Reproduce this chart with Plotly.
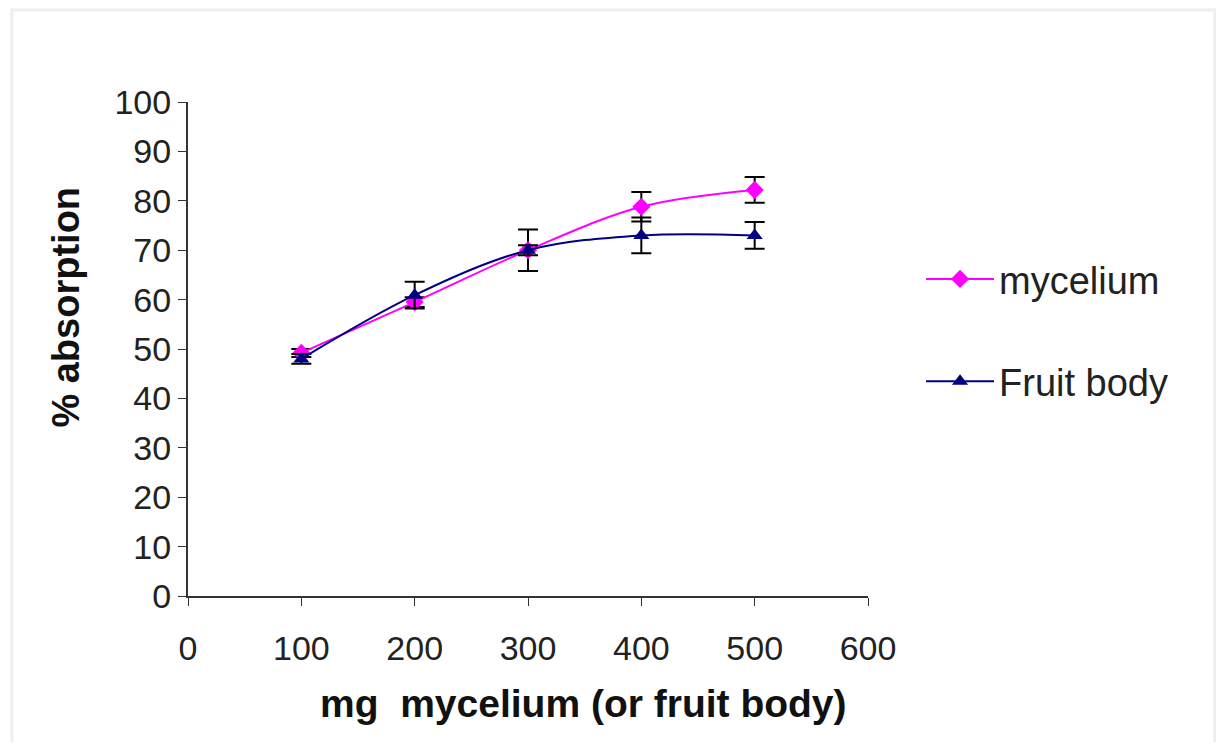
import plotly.graph_objects as go

x_vals = [100, 200, 300, 400, 500]
mycelium = [49.2, 59.5, 70.0, 78.8, 82.2]
mycelium_err = [0.8, 1.0, 4.2, 3.0, 2.6]
fruit_body = [48.0, 60.9, 70.0, 73.0, 73.0]
fruit_err = [1.0, 2.7, 1.0, 3.6, 2.7]
x_ticks = [0, 100, 200, 300, 400, 500, 600]
y_ticks = [0, 10, 20, 30, 40, 50, 60, 70, 80, 90, 100]
x_title = "mg  mycelium (or fruit body)"
y_title = "% absorption"

FONT = "Liberation Sans, Arial, sans-serif"

fig = go.Figure()
fig.add_trace(go.Scatter(
    x=x_vals, y=mycelium, name="mycelium", mode="lines+markers", legendgroup="a",
    line=dict(color="#FF00FF", width=2, shape="spline"),
    marker=dict(symbol="diamond", size=14, color="#FF00FF"),
    error_y=dict(type="data", array=mycelium_err, color="black", thickness=2, width=10),
))
fig.add_trace(go.Scatter(
    x=x_vals, y=fruit_body, name="Fruit body", mode="lines+markers", legendgroup="b",
    line=dict(color="#000080", width=2, shape="spline"),
    marker=dict(symbol="triangle-up", size=14, color="#000080"),
    error_y=dict(type="data", array=fruit_err, color="black", thickness=2, width=10),
))

fig.update_layout(
    width=1208, height=734,
    paper_bgcolor="white", plot_bgcolor="white",
    margin=dict(l=180, r=348, t=94, b=146),
    font=dict(family=FONT, size=34, color="#222222"),
    showlegend=True,
    legend=dict(x=1.078, y=0.538, xanchor="left", yanchor="middle",
                font=dict(size=38, color="#222222"), tracegroupgap=50,
                itemwidth=68, bgcolor="rgba(0,0,0,0)"),
    xaxis=dict(range=[0, 600], tickvals=x_ticks, ticks="outside", ticklen=8,
               tickcolor="#333333", showline=True, linecolor="#333333", linewidth=2,
               showgrid=False, zeroline=False, tickfont=dict(size=34),
               ticklabelstandoff=13),
    yaxis=dict(range=[0, 100], tickvals=y_ticks, ticks="outside", ticklen=8,
               tickcolor="#333333", showline=True, linecolor="#333333", linewidth=2,
               showgrid=False, zeroline=False, tickfont=dict(size=34)),
    annotations=[
        dict(text="<b>" + x_title + "</b>", xref="paper", yref="paper",
             x=0.582, y=-0.217, xanchor="center", yanchor="middle", showarrow=False,
             font=dict(size=39, color="#111111")),
        dict(text="<b>" + y_title + "</b>", xref="paper", yref="paper",
             x=-0.180, y=0.585, xanchor="center", yanchor="middle", showarrow=False,
             textangle=-90, font=dict(size=38, color="#111111")),
    ],
)

# faint outer frame (left/top edges visible)
fig.add_shape(type="rect", xref="paper", yref="paper", x0=-0.259, x1=1.51, y0=-0.31, y1=1.186,
              line=dict(color="#EEEEEE", width=3), layer="below")

fig.write_html("out.html")
